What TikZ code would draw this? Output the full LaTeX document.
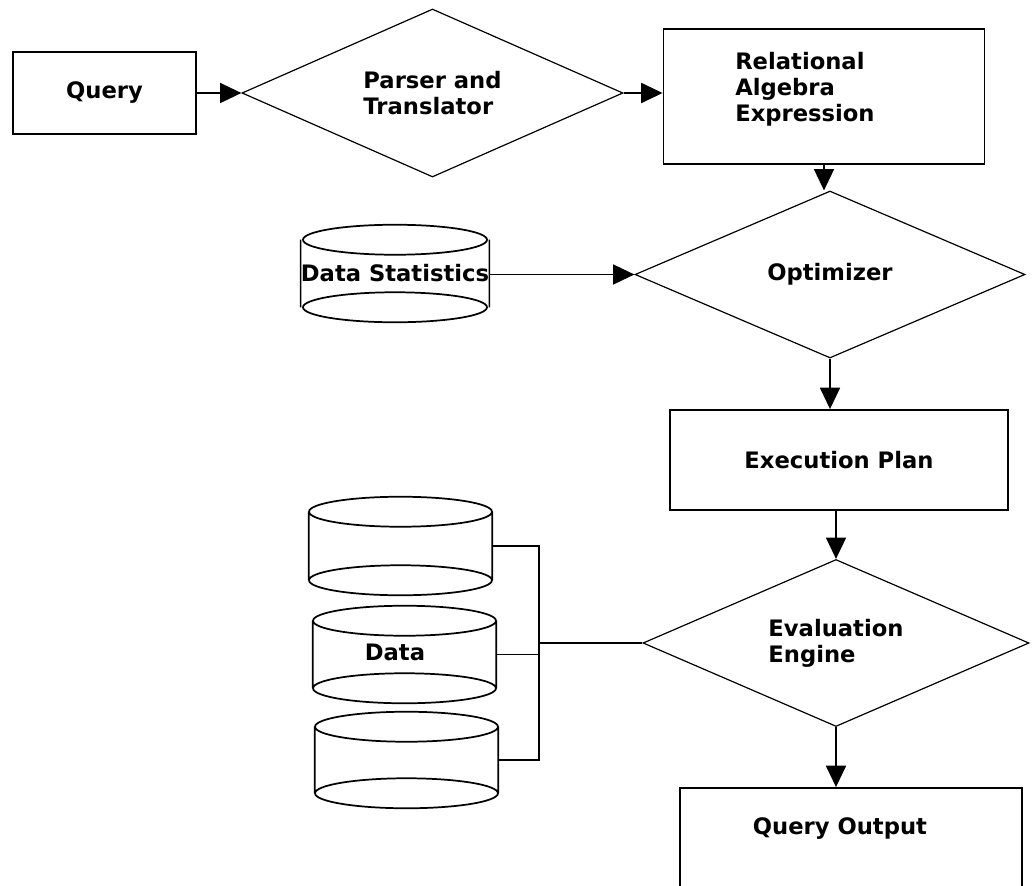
\documentclass[tikz,border=0pt]{standalone}
\usepackage{fontspec}
\setmainfont{DejaVu Sans}
\usetikzlibrary{shapes.geometric,arrows.meta}
\begin{document}
\begin{tikzpicture}[x=0.75pt,y=-0.75pt,
  every node/.style={font=\bfseries\fontsize{17}{19.5}\selectfont},
  box/.style={draw, line width=1.4pt, rectangle, inner sep=0pt},
  dia/.style={draw, line width=0.9pt, diamond, aspect=2.3, inner sep=0pt, align=left},
  cyl/.style={rectangle, inner sep=0pt},
  arr/.style={line width=1.3pt, -{Triangle[length=16pt,width=15pt]}},
  link/.style={line width=1.3pt},
  cylline/.style={line width=1.3pt}]
\path[use as bounding box, fill=white] (0,0) rectangle (1033,886);
\clip (0,0) rectangle (1033,886);

% main column
\node[box, minimum width=137.25pt, minimum height=61.5pt] (q) at (104.5,93) {Query};
\node[dia, minimum width=285.75pt, minimum height=126pt] (pt) at (432.5,93) {Parser and\\Translator};
\node[box, minimum width=240.75pt, minimum height=101.25pt] (rae) at (824,96.5) {};
\node[align=left, anchor=west, inner sep=0pt] (raet) at (735,89) {Relational\\Algebra\\Expression};
\node[dia, minimum width=292.5pt, minimum height=125.25pt] (opt) at (830,274.5) {Optimizer};
\node[box, minimum width=253.5pt, minimum height=75pt] (ep) at (839,460) {Execution Plan};
\node[dia, minimum width=289.5pt, minimum height=125.25pt] (ee) at (836,643) {Evaluation\\Engine};
\node[box, minimum width=256.5pt, minimum height=121.5pt] (qo) at (851,869) {};
\node[inner sep=0pt] (qot) at (840,829) {Query Output};

% data statistics cylinder
\node[cyl, minimum width=138pt, minimum height=50.25pt] (ds) at (395,273.5) {Data Statistics};
\draw[cylline] (ds.north) ellipse[x radius=69pt, y radius=11.25pt]
  (ds.south) ellipse[x radius=69pt, y radius=11.25pt]
  (ds.north west) -- (ds.south west) (ds.north east) -- (ds.south east);

% data cylinders
\node[cyl, minimum width=137.25pt, minimum height=51pt] (c1) at (400.5,546) {};
\node[cyl, minimum width=137.25pt, minimum height=50.25pt] (c2) at (404.5,654.5) {};
\node[inner sep=0pt] (c2t) at (395,652) {Data};
\node[cyl, minimum width=137.25pt, minimum height=49.5pt] (c3) at (406.5,760) {};
\foreach \c in {c1,c2,c3}{
  \draw[cylline] (\c.north) ellipse[x radius=68.6pt, y radius=11.25pt]
    (\c.south) ellipse[x radius=68.6pt, y radius=11.25pt]
    (\c.north west) -- (\c.south west) (\c.north east) -- (\c.south east);
}

% connectors
\draw[arr] (q.east) -- (pt.west);
\draw[arr] (pt.east) -- (pt.east -| rae.west);
\draw[arr] (rae.south) -- (rae.south |- opt.north);
\draw[arr] (ds.east |- opt.west) -- (opt.west);
\draw[arr] (opt.south) -- (opt.south |- ep.north);
\draw[arr] (ep.south -| ee.north) -- (ee.north);
\draw[arr] (ee.south) -- (ee.south |- qo.north);

\coordinate (j) at (539,643);
\draw[link] (c1.east) -- (c1.east -| j) -- (c3.east -| j) -- (c3.east);
\draw[link] (c2.east) -- (c2.east -| j);
\draw[link] (j) -- (ee.west);
\end{tikzpicture}
\end{document}
